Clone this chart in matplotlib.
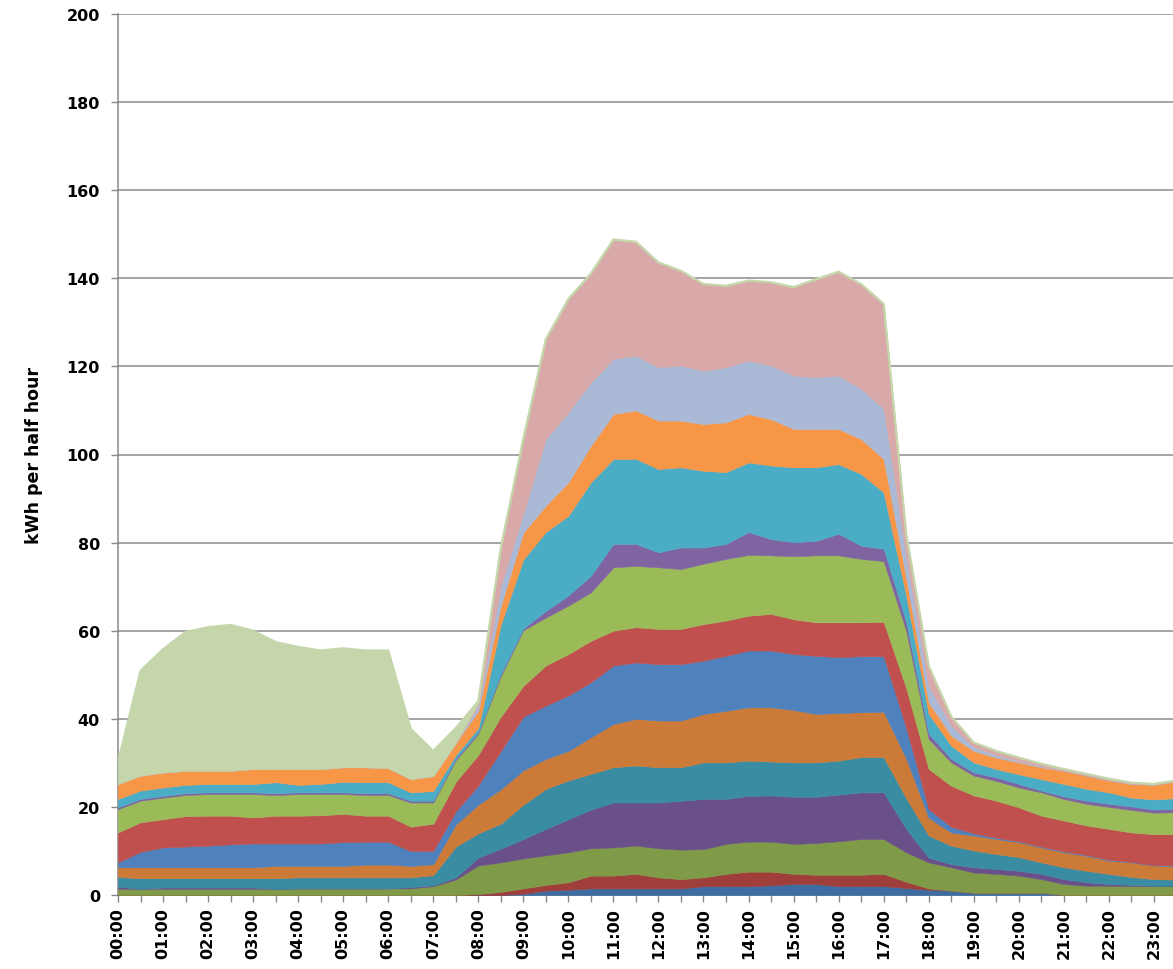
import numpy as np
import matplotlib
matplotlib.use("Agg")
import matplotlib.pyplot as plt


# ==============================
# DATA
# half hourly readings, values are the cumulative top of each band
# (read off the stacked chart from bottom band to top band)
# ==============================

times = [f"{h:02d}:{m:02d}" for h in range(24) for m in (0, 30)]

top_dark_blue = [
    0, 0, 0, 0, 0, 0, 0, 0, 0, 0, 0, 0, 0, 0, 0, 0,
    0, 0, 0.3, 1.0, 1.2, 1.5, 1.5, 1.5, 1.5, 1.5, 2.0, 2.0, 2.0, 2.2, 2.5, 2.5,
    2.0, 2.0, 2.0, 1.6, 1.2, 1.0, 0.5, 0.5, 0.5, 0.5, 0, 0, 0, 0, 0, 0,
]
top_dark_red = [
    0, 0, 0, 0, 0, 0, 0, 0, 0, 0, 0, 0, 0, 0, 0, 0,
    0.2, 0.7, 1.5, 2.3, 2.9, 4.4, 4.4, 4.8, 4.0, 3.6, 4.0, 4.8, 5.3, 5.3, 4.8, 4.6,
    4.6, 4.6, 4.8, 3.0, 1.5, 1.0, 0.5, 0.5, 0.5, 0.5, 0, 0, 0, 0, 0, 0,
]
top_olive = [
    1.4, 1.4, 1.4, 1.4, 1.4, 1.4, 1.4, 1.4, 1.5, 1.5, 1.5, 1.5, 1.5, 1.5, 2.0, 3.5,
    6.7, 7.4, 8.3, 9.0, 9.7, 10.6, 10.8, 11.2, 10.6, 10.3, 10.4, 11.6, 12.1, 12.1, 11.6, 11.8,
    12.2, 12.7, 12.7, 9.7, 7.4, 6.3, 5.1, 4.8, 4.4, 3.6, 2.5, 2.1, 2.1, 2.0, 2.0, 2.0,
]
top_dark_purple = [
    1.9, 1.4, 1.7, 1.7, 1.7, 1.7, 1.7, 1.4, 1.5, 1.5, 1.5, 1.5, 1.5, 1.8, 2.2, 4.0,
    8.5, 10.5, 12.7, 15.0, 17.2, 19.4, 21.0, 21.0, 21.0, 21.4, 21.8, 21.8, 22.5, 22.6, 22.3, 22.3,
    22.8, 23.3, 23.3, 15.0, 8.5, 7.0, 6.3, 5.9, 5.5, 4.8, 3.6, 2.9, 2.5, 2.3, 2.1, 2.1,
]
top_teal = [
    4.1, 3.8, 3.8, 3.8, 3.8, 3.8, 3.8, 3.8, 4.0, 4.0, 4.0, 4.0, 4.0, 4.0, 4.5, 11.0,
    14.0, 16.2, 20.5, 24.1, 26.0, 27.5, 29.0, 29.4, 29.0, 29.0, 30.1, 30.1, 30.5, 30.3, 30.1, 30.1,
    30.5, 31.3, 31.3, 22.0, 13.5, 11.2, 10.1, 9.3, 8.6, 7.4, 6.3, 5.5, 4.8, 4.1, 3.6, 3.5,
]
top_dark_orange = [
    6.3, 6.3, 6.3, 6.3, 6.3, 6.3, 6.3, 6.6, 6.6, 6.6, 6.6, 6.9, 6.9, 6.6, 7.0, 16.0,
    20.5, 24.0, 28.3, 30.9, 32.7, 35.8, 38.8, 40.0, 39.6, 39.6, 41.1, 41.8, 42.6, 42.6, 42.0, 41.1,
    41.3, 41.5, 41.6, 31.0, 17.5, 14.2, 13.5, 12.7, 12.0, 10.8, 9.7, 8.9, 7.8, 7.4, 6.7, 6.5,
]
top_blue = [
    7.4, 9.8, 10.8, 11.0, 11.2, 11.5, 11.7, 11.7, 11.7, 11.7, 12.0, 12.1, 12.1, 10.0, 10.0, 19.0,
    24.9, 32.7, 40.5, 43.0, 45.3, 48.3, 52.1, 52.8, 52.4, 52.4, 53.2, 54.3, 55.5, 55.5, 54.7, 54.3,
    54.0, 54.2, 54.2, 38.0, 19.5, 15.5, 14.0, 13.0, 12.2, 11.0, 9.9, 9.1, 8.0, 7.5, 6.8, 6.7,
]
top_red = [
    14.2, 16.5, 17.2, 17.9, 18.0, 18.0, 17.6, 18.0, 18.0, 18.1, 18.4, 18.0, 18.0, 15.5, 16.2, 25.7,
    31.8, 40.5, 47.5, 52.1, 54.7, 57.7, 60.0, 60.8, 60.4, 60.4, 61.5, 62.3, 63.4, 63.8, 62.6, 61.9,
    61.9, 61.9, 62.0, 47.0, 28.6, 24.8, 22.6, 21.4, 19.9, 18.0, 16.9, 15.8, 15.0, 14.2, 13.8, 13.8,
]
top_green = [
    19.5, 21.4, 22.1, 22.7, 22.9, 22.9, 22.9, 22.7, 22.9, 22.9, 22.9, 22.7, 22.7, 21.0, 21.0, 30.6,
    36.6, 49.7, 60.1, 63.0, 65.7, 68.7, 74.4, 74.7, 74.4, 74.0, 75.2, 76.3, 77.2, 77.1, 76.9, 77.1,
    77.1, 76.3, 75.8, 60.0, 35.4, 30.1, 27.1, 25.9, 24.4, 23.3, 21.8, 20.7, 20.0, 19.3, 18.7, 18.8,
]
top_purple = [
    19.9, 21.8, 22.5, 23.1, 23.3, 23.3, 23.3, 23.1, 23.3, 23.3, 23.3, 23.1, 23.1, 21.4, 21.4, 31.0,
    37.0, 50.2, 60.5, 64.5, 68.0, 72.5, 79.7, 79.7, 77.8, 78.9, 78.9, 79.7, 82.4, 80.8, 80.1, 80.4,
    82.0, 79.3, 78.6, 62.0, 36.6, 30.9, 27.8, 26.7, 25.2, 23.7, 22.4, 21.4, 20.7, 20.1, 19.4, 19.5,
]
top_aqua = [
    21.8, 23.7, 24.4, 25.0, 25.2, 25.2, 25.2, 25.6, 25.0, 25.2, 25.7, 25.6, 25.6, 23.3, 23.6, 31.8,
    37.9, 61.4, 76.2, 82.4, 86.1, 93.7, 99.0, 99.0, 96.7, 97.1, 96.3, 96.0, 98.2, 97.5, 97.1, 97.1,
    97.8, 95.6, 91.4, 68.0, 41.1, 33.9, 30.1, 28.6, 27.4, 26.3, 25.2, 24.1, 23.3, 22.1, 21.7, 22.0,
]
top_orange = [
    25.2, 27.1, 27.8, 28.2, 28.2, 28.2, 28.6, 28.6, 28.6, 28.6, 29.0, 29.0, 28.8, 26.3, 27.0, 34.5,
    41.8, 65.7, 82.3, 88.4, 93.7, 102.0, 109.2, 110.0, 107.7, 107.7, 106.9, 107.3, 109.2, 108.0, 105.8, 105.8,
    105.8, 103.5, 99.0, 72.0, 43.7, 36.2, 32.7, 31.2, 30.1, 29.0, 28.2, 27.1, 26.0, 25.2, 25.0, 25.8,
]
top_light_blue = [
    25.2, 27.1, 27.8, 28.2, 28.2, 28.2, 28.6, 28.6, 28.6, 28.6, 29.0, 29.0, 28.8, 26.3, 27.0, 34.5,
    43.0, 70.1, 86.6, 103.5, 109.6, 116.4, 121.7, 122.4, 119.8, 120.2, 119.0, 119.8, 121.3, 120.2, 117.9, 117.5,
    117.9, 114.9, 110.4, 77.0, 47.5, 38.5, 33.6, 31.8, 30.4, 29.2, 28.3, 27.2, 26.1, 25.3, 25.1, 25.9,
]
top_pink = [
    25.2, 27.1, 27.8, 28.2, 28.2, 28.2, 28.6, 28.6, 28.6, 28.6, 29.0, 29.0, 28.8, 26.3, 27.0, 34.5,
    43.6, 78.8, 103.6, 126.2, 135.3, 141.1, 148.8, 148.3, 143.6, 141.7, 138.7, 138.3, 139.5, 139.1, 138.0, 139.8,
    141.5, 138.7, 134.2, 82.0, 52.0, 40.5, 34.6, 32.7, 31.2, 29.8, 28.6, 27.5, 26.4, 25.5, 25.2, 26.0,
]
top_light_green = [
    30.2, 50.9, 55.8, 59.7, 60.8, 61.3, 60.0, 57.4, 56.3, 55.5, 56.0, 55.5, 55.5, 37.7, 32.7, 37.9,
    44.0, 78.8, 103.6, 126.2, 135.3, 141.1, 148.8, 148.3, 143.6, 141.7, 138.7, 138.3, 139.5, 139.1, 138.0, 139.8,
    141.5, 138.7, 134.2, 82.0, 52.0, 40.5, 34.6, 32.7, 31.2, 29.8, 28.6, 27.5, 26.4, 25.5, 25.2, 26.0,
]

band_tops = [
    top_dark_blue, top_dark_red, top_olive, top_dark_purple, top_teal,
    top_dark_orange, top_blue, top_red, top_green, top_purple, top_aqua,
    top_orange, top_light_blue, top_pink, top_light_green,
]

band_colors = [
    "#3F6CA0", "#9F3E3B", "#7F9B48", "#6A5088", "#3A8CA3",
    "#CC7A37", "#4F81BD", "#C0504D", "#9BBB59", "#8064A2", "#4BACC6",
    "#F79646", "#AAB9D6", "#D8A9A8", "#C4D6AA",
]


# ==============================
# PLOT
# ==============================

def band_values(tops):
    cum = np.vstack([np.zeros(len(tops[0])), np.array(tops, dtype=float)])
    return np.clip(np.diff(cum, axis=0), 0, None)


def plot_stacked(out_path="out.png"):
    fig = plt.figure(figsize=(11.73, 9.70), dpi=100)
    ax = fig.add_axes([118 / 1173, 74 / 970, 1058.4 / 1173, 881 / 970])

    x = np.arange(len(times))
    layers = band_values(band_tops)

    ax.stackplot(x, layers, colors=band_colors, edgecolor="face",
                 linewidth=0.4, zorder=3)
    ax.plot(x, top_light_green, color="#C4D6AA", linewidth=1.6, zorder=4)

    ax.set_xlim(0, len(times) - 1)
    ax.set_ylim(0, 200)

    ax.set_yticks(np.arange(0, 201, 20))
    ax.yaxis.grid(True, color="#8C8C8C", linewidth=1.1, zorder=0)
    ax.set_axisbelow(True)

    ax.set_xticks(x)
    ax.set_xticklabels([t if i % 2 == 0 else "" for i, t in enumerate(times)],
                       rotation=90)

    for spine in ("top", "right"):
        ax.spines[spine].set_visible(False)
    for spine in ("left", "bottom"):
        ax.spines[spine].set_color("#868686")
        ax.spines[spine].set_linewidth(1.1)

    ax.tick_params(axis="both", colors="#868686", length=5, width=1.0,
                   labelcolor="black", labelsize=11.5)
    ax.tick_params(axis="y", pad=8)
    for lbl in ax.get_xticklabels() + ax.get_yticklabels():
        lbl.set_fontweight("bold")

    ax.set_ylabel("kWh per half hour", fontsize=12.5, fontweight="bold",
                  labelpad=17)

    fig.savefig(out_path, dpi=100)


def main():
    plot_stacked("out.png")


if __name__ == "__main__":
    main()
